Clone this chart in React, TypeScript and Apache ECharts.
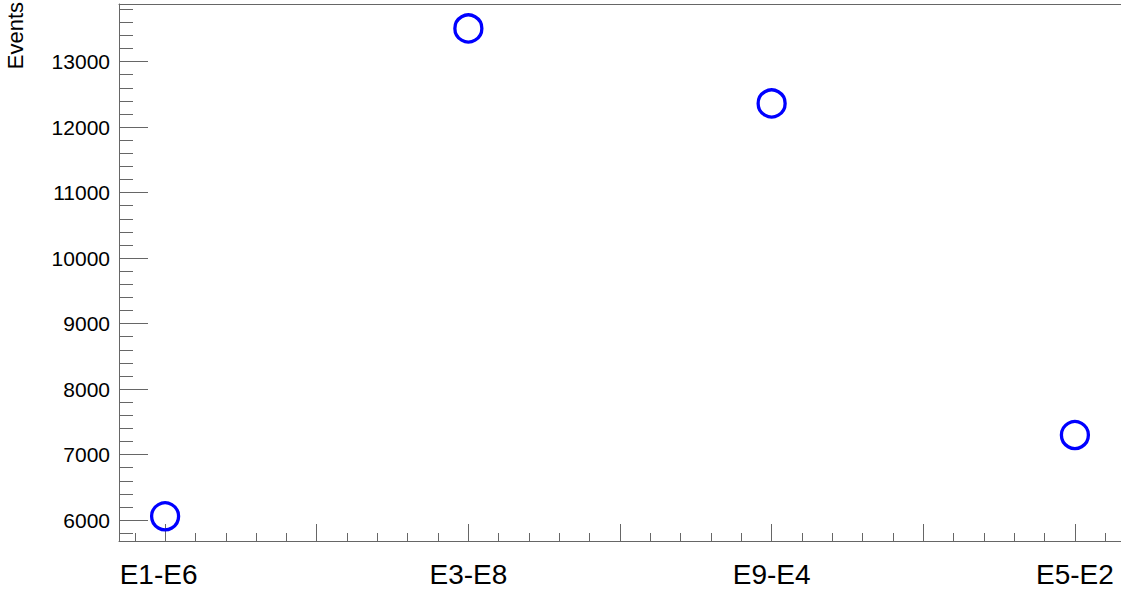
import React, { useEffect, useRef } from "react";
import * as echarts from "echarts";

// Pair labels and their event counts
const categories: string[] = ["E1-E6", "E3-E8", "E9-E4", "E5-E2"];
const events: number[] = [6057, 13507, 12362, 7298];

// Axis ranges and tick positions
const xRange: number[] = [-0.152, 3.152];
const yRange: number[] = [5680, 13880];
const xMajorTicks: number[] = [0, 0.5, 1, 1.5, 2, 2.5, 3];
const xMinorTicks: number[] = [
  -0.1, 0.1, 0.2, 0.3, 0.4, 0.6, 0.7, 0.8, 0.9, 1.1, 1.2, 1.3, 1.4, 1.6, 1.7,
  1.8, 1.9, 2.1, 2.2, 2.3, 2.4, 2.6, 2.7, 2.8, 2.9, 3.1,
];
const yMajorTicks: number[] = [6000, 7000, 8000, 9000, 10000, 11000, 12000, 13000];
const yMinorTicks: number[] = [
  5800, 6200, 6400, 6600, 6800, 7200, 7400, 7600, 7800, 8200, 8400, 8600, 8800,
  9200, 9400, 9600, 9800, 10200, 10400, 10600, 10800, 11200, 11400, 11600,
  11800, 12200, 12400, 12600, 12800, 13200, 13400, 13600, 13800,
];
const categoryTicks: number[] = [0, 1, 2, 3];

const FONT = "'Liberation Sans', Arial, Helvetica, sans-serif";
const LINE = "#666666";

export default function App() {
  const ref = useRef<HTMLDivElement>(null);

  useEffect(() => {
    document.body.style.margin = "0";
    if (!ref.current) return;
    const chart = echarts.init(ref.current, undefined, { renderer: "svg" });

    const baseX = {
      type: "value" as const,
      min: xRange[0],
      max: xRange[1],
      splitLine: { show: false },
    };
    const baseY = {
      type: "value" as const,
      min: yRange[0],
      max: yRange[1],
      splitLine: { show: false },
    };

    chart.setOption({
      animation: false,
      backgroundColor: "#ffffff",
      grid: { left: 119, right: 0, top: 4, bottom: 51, containLabel: false },
      xAxis: [
        {
          ...baseX,
          position: "bottom",
          axisLine: { show: true, onZero: false, lineStyle: { color: LINE, width: 1 } },
          axisTick: {
            show: true,
            inside: true,
            length: 17,
            customValues: xMajorTicks,
            lineStyle: { color: LINE, width: 1 },
          },
          axisLabel: {
            show: true,
            customValues: categoryTicks,
            margin: 19,
            color: "#000000",
            fontFamily: FONT,
            fontSize: 28,
            // the first label is nudged so it stays inside the frame
            formatter: (v: number) => {
              const i = Math.round(v);
              const name = categories[i] ?? "";
              return i === 0 ? `{first|${name}}` : name;
            },
            rich: {
              first: {
                fontFamily: FONT,
                fontSize: 28,
                color: "#000000",
                padding: [0, 13, 0, 0],
              },
            },
          },
        },
        {
          ...baseX,
          position: "bottom",
          axisLine: { show: false, onZero: false },
          axisTick: {
            show: true,
            inside: true,
            length: 8,
            customValues: xMinorTicks,
            lineStyle: { color: LINE, width: 1 },
          },
          axisLabel: { show: false },
        },
        {
          ...baseX,
          position: "top",
          axisLine: { show: true, onZero: false, lineStyle: { color: LINE, width: 1 } },
          axisTick: { show: false },
          axisLabel: { show: false },
        },
      ],
      yAxis: [
        {
          ...baseY,
          position: "left",
          axisLine: { show: true, onZero: false, lineStyle: { color: LINE, width: 1 } },
          axisTick: {
            show: true,
            inside: true,
            length: 29,
            customValues: yMajorTicks,
            lineStyle: { color: LINE, width: 1 },
          },
          axisLabel: {
            show: true,
            customValues: yMajorTicks,
            margin: 9,
            color: "#000000",
            fontFamily: FONT,
            fontSize: 21,
            formatter: (v: number) => String(Math.round(v)),
          },
        },
        {
          ...baseY,
          position: "left",
          axisLine: { show: false, onZero: false },
          axisTick: {
            show: true,
            inside: true,
            length: 14,
            customValues: yMinorTicks,
            lineStyle: { color: LINE, width: 1 },
          },
          axisLabel: { show: false },
        },
      ],
      graphic: [
        {
          type: "text",
          x: 15,
          y: 2,
          rotation: Math.PI / 2,
          style: {
            text: "Events",
            align: "right",
            verticalAlign: "middle",
            fontFamily: FONT,
            fontSize: 22,
            fill: "#000000",
          },
        },
      ],
      series: [
        {
          type: "scatter",
          xAxisIndex: 0,
          yAxisIndex: 0,
          symbol: "circle",
          symbolSize: 27,
          itemStyle: {
            color: "transparent",
            borderColor: "#0000ff",
            borderWidth: 3.3,
            opacity: 1,
          },
          data: events.map((v, i) => [i, v]),
        },
      ],
    });

    return () => chart.dispose();
  }, []);

  return <div ref={ref} style={{ width: 1121, height: 592 }} />;
}
